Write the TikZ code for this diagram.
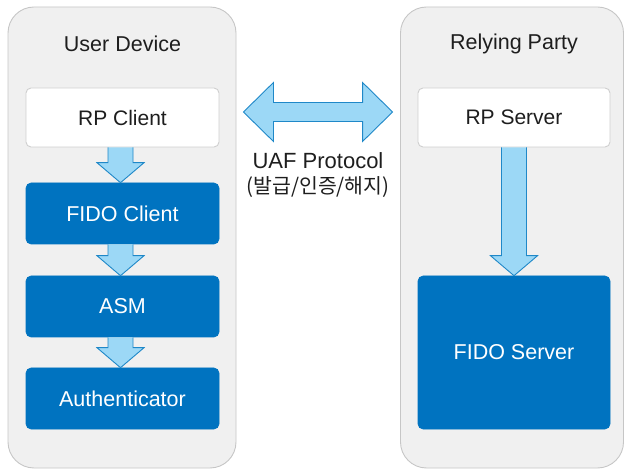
\documentclass[tikz,border=0pt]{standalone}
\usepackage{fontspec}
\setmainfont{Liberation Sans}
\newfontfamily\kofont{Noto Sans CJK KR}
\usetikzlibrary{calc}
\definecolor{panelfill}{HTML}{F0F0F0}
\definecolor{panelline}{HTML}{C6C6C6}
\definecolor{boxline}{HTML}{CFCFCF}
\definecolor{fidoblue}{HTML}{0073C0}
\definecolor{arrowfill}{HTML}{9CD8F6}
\definecolor{arrowline}{HTML}{1F88C8}
\definecolor{ink}{HTML}{1E1E1E}

% downward block arrow from the bottom of one node to the top of another
\newcommand\flowarrow[3]{%
  \coordinate (fa-s) at ($(#1.south)+(#3,0)$);
  \coordinate (fa-t) at ($(#2.north)+(#3,0)$);
  \fill[arrowfill] ($(fa-s)+(-12.5,0)$) -- ($(fa-t)+(-12.5,-20)$) -- ($(fa-t)+(-23.5,-20)$)
    -- (fa-t) -- ($(fa-t)+(23.5,-20)$) -- ($(fa-t)+(12.5,-20)$) -- ($(fa-s)+(12.5,0)$) -- cycle;
  \draw[arrowline, line width=0.9pt, line join=miter] ($(fa-s)+(-12.5,0)$) -- ($(fa-t)+(-12.5,-20)$) -- ($(fa-t)+(-23.5,-20)$)
    -- (fa-t) -- ($(fa-t)+(23.5,-20)$) -- ($(fa-t)+(12.5,-20)$) -- ($(fa-s)+(12.5,0)$);
}

\begin{document}
\begin{tikzpicture}[x=1pt, y=-1pt,
  txt/.style={font=\fontsize{21.5}{25}\selectfont, text=ink, inner sep=0pt},
  panel/.style={draw=panelline, fill=panelfill, line width=0.9pt, rounded corners=26pt, inner sep=0pt},
  plainbox/.style={draw=boxline, fill=white, line width=0.9pt, rounded corners=5pt, minimum width=193pt, inner sep=0pt,
    font=\fontsize{21}{25}\selectfont, text=ink},
  bluebox/.style={draw=fidoblue, fill=fidoblue, line width=0.6pt, rounded corners=5pt, minimum width=193pt, inner sep=0pt,
    font=\fontsize{21.5}{25}\selectfont, text=white}]
  \useasboundingbox (0,0) rectangle (624,470);

  % the two sides
  \node[panel, minimum width=228pt, minimum height=461pt] (ud) at (122,237.5) {};
  \node[panel, minimum width=223pt, minimum height=461pt] (rp) at (512,237.5) {};
  \node[txt] (udtitle) at (122.5,44) {User Device};
  \node[txt] (rptitle) at (514,44) {Relying Party};

  % user device stack
  \node[plainbox, minimum height=59pt] (rpc) at (122.5,117.5) {RP Client};
  \node[bluebox, minimum height=61pt] (fidoc) at (122.5,213.5) {FIDO Client};
  \node[bluebox, minimum height=61pt] (asm) at (122.5,306.5) {ASM};
  \node[bluebox, minimum height=61pt] (auth) at (122.5,398.5) {Authenticator};

  % relying party stack
  \node[plainbox, minimum width=192pt, minimum height=59pt] (rps) at (514,117.5) {RP Server};
  \node[bluebox, minimum width=192pt, minimum height=153pt] (fidos) at (514,352.5) {FIDO Server};

  % flows inside each side
  \flowarrow{rpc}{fidoc}{-2}
  \flowarrow{fidoc}{asm}{-2}
  \flowarrow{asm}{auth}{-2}
  \flowarrow{rps}{fidos}{0}

  % protocol between client and server
  \coordinate (pl) at ($(rpc.east)+(24,-5.5)$);
  \coordinate (pr) at ($(rps.west)+(-25,-5.5)$);
  \filldraw[fill=arrowfill, draw=arrowline, line width=0.9pt, line join=miter]
    (pl) -- ($(pl)+(30,-29.5)$) -- ($(pl)+(30,-9.5)$) -- ($(pr)+(-30,-9.5)$) -- ($(pr)+(-30,-29.5)$)
    -- (pr) -- ($(pr)+(-30,29.5)$) -- ($(pr)+(-30,9.5)$) -- ($(pl)+(30,9.5)$) -- ($(pl)+(30,29.5)$) -- cycle;
  \node[txt, align=center, font=\fontsize{22}{25}\selectfont] (uaf) at (318,175.5)
    {UAF Protocol\\{\kofont\fontsize{20.5}{25}\selectfont (발급/인증/해지)}};
\end{tikzpicture}
\end{document}
